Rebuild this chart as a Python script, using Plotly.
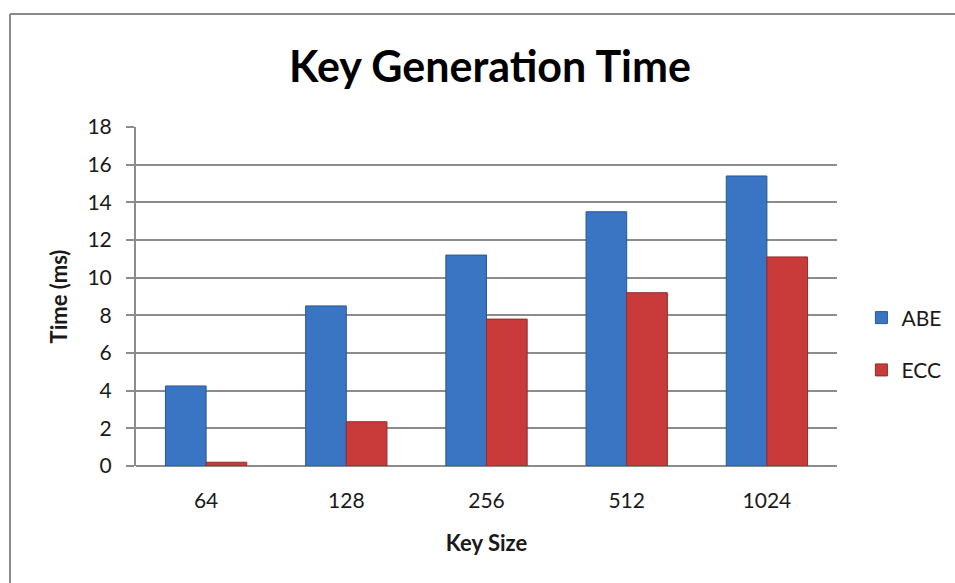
import plotly.graph_objects as go

# Key generation time per key size
key_sizes = ["64", "128", "256", "512", "1024"]
abe_ms = [4.25, 8.5, 11.2, 13.5, 15.4]
ecc_ms = [0.2, 2.35, 7.8, 9.2, 11.1]
y_ticks = [0, 2, 4, 6, 8, 10, 12, 14, 16, 18]

FONT = "Lato, 'Open Sans', sans-serif"
GRID = "#8c8c8c"
FRAME = "#8a8a8a"

fig = go.Figure()
fig.add_trace(go.Bar(
    name="ABE", x=key_sizes, y=abe_ms, legendgroup="abe",
    marker=dict(color="#3a75c4", line=dict(color="#2a5795", width=1)),
))
fig.add_trace(go.Bar(
    name="ECC", x=key_sizes, y=ecc_ms, legendgroup="ecc",
    marker=dict(color="#c83b3a", line=dict(color="#952b2a", width=1)),
))

fig.update_layout(
    width=955, height=583,
    margin=dict(l=136, r=118, t=127, b=117, autoexpand=False),
    paper_bgcolor="white", plot_bgcolor="white",
    barmode="group", bargap=0.42, bargroupgap=0,
    font=dict(family=FONT, color="#1a1a1a", size=21),
    showlegend=True,
    legend=dict(
        xref="container", yref="container",
        x=0.902, y=0.41, xanchor="left", yanchor="middle",
        font=dict(size=21, family=FONT), tracegroupgap=22,
        itemwidth=30, bgcolor="rgba(0,0,0,0)",
    ),
    xaxis=dict(
        showgrid=False, showline=False, ticks="",
        tickfont=dict(size=21), ticklabelstandoff=20,
        title=dict(text="<b>Key Size</b>", font=dict(size=22), standoff=24),
    ),
    yaxis=dict(
        range=[0, 18], tickvals=y_ticks,
        showgrid=True, gridcolor=GRID, gridwidth=2,
        showline=True, linecolor=GRID, linewidth=2,
        ticks="outside", ticklen=8, tickcolor=GRID, tickwidth=2,
        tickfont=dict(size=21), ticklabelstandoff=10,
        zeroline=True, zerolinecolor=GRID, zerolinewidth=2,
        title=dict(text="<b>Time (ms)</b>", font=dict(size=22), standoff=14),
    ),
    annotations=[dict(
        text="<b>Key Generation Time</b>", xref="paper", yref="paper",
        x=0.505, y=1.0, yshift=62, xanchor="center", yanchor="middle",
        showarrow=False, font=dict(size=43, family=FONT, color="#000000"),
    )],
)

# Outer chart frame: top and left edges
fig.add_shape(type="line", xref="paper", yref="paper",
              x0=-126 / 701, x1=2, y0=1 + 113 / 339, y1=1 + 113 / 339,
              line=dict(color=FRAME, width=2))
fig.add_shape(type="line", xref="paper", yref="paper",
              x0=-126 / 701, x1=-126 / 701, y0=1 + 113 / 339, y1=-2,
              line=dict(color=FRAME, width=2))

fig.write_html("out.html")
